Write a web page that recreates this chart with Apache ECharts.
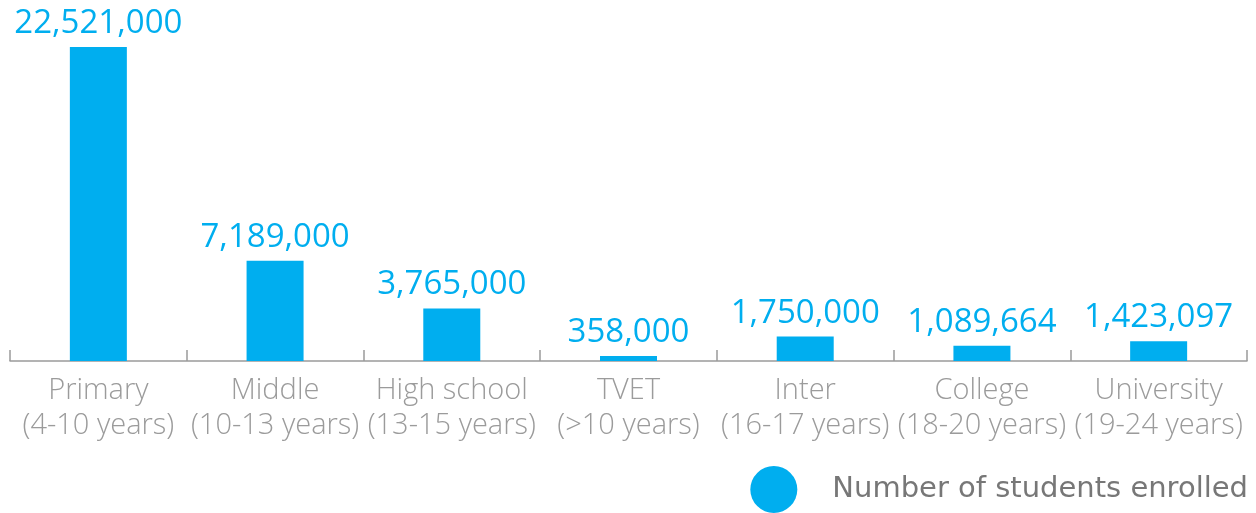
<!DOCTYPE html>
<html>
<head>
<meta charset="utf-8">
<script src="https://cdn.jsdelivr.net/npm/echarts@6/dist/echarts.min.js"></script>
<style>
  html, body { margin: 0; padding: 0; background: #fff; }
  #chart { width: 1256px; height: 513px; }
</style>
</head>
<body>
<div id="chart"></div>
<script>
// Enrolment by level of education
const levels = ['Primary', 'Middle', 'High school', 'TVET', 'Inter', 'College', 'University'];
const ageRanges = ['(4-10 years)', '(10-13 years)', '(13-15 years)', '(>10 years)', '(16-17 years)', '(18-20 years)', '(19-24 years)'];
const enrolled = [22521000, 7189000, 3765000, 358000, 1750000, 1089664, 1423097];
const seriesName = 'Number of students enrolled';

const blue = '#00AEEF';
const font = '"Open Sans", "Noto Sans", sans-serif';

const categories = levels.map((l, i) => l + '\n' + ageRanges[i]);

const chart = echarts.init(document.getElementById('chart'));
chart.setOption({
  animation: false,
  grid: { left: 10, right: 9, top: 47, bottom: 152, containLabel: false },
  legend: {
    data: [seriesName],
    right: 8,
    top: 466,
    padding: 0,
    icon: 'circle',
    itemWidth: 47,
    itemHeight: 47,
    textStyle: {
      fontFamily: '"DejaVu Sans", sans-serif',
      fontSize: 29,
      color: '#777777',
      padding: [0, 0, 0, 30]
    }
  },
  xAxis: {
    type: 'category',
    data: categories,
    axisLine: { show: true, lineStyle: { color: '#9a9a9a', width: 1.5 } },
    axisTick: { show: true, inside: true, length: 11, lineStyle: { color: '#9a9a9a', width: 1.5 } },
    axisLabel: {
      interval: 0,
      margin: 12,
      fontFamily: font,
      fontWeight: 300,
      fontSize: 29,
      lineHeight: 35,
      color: '#9b9b9b'
    }
  },
  yAxis: {
    type: 'value',
    min: 0,
    max: 'dataMax',
    show: false,
    splitLine: { show: false }
  },
  series: [{
    name: seriesName,
    type: 'bar',
    data: enrolled,
    barWidth: 57,
    itemStyle: { color: blue },
    label: {
      show: true,
      position: 'top',
      distance: 7,
      fontFamily: font,
      fontSize: 33,
      color: blue,
      formatter: p => p.value.toLocaleString('en-US')
    }
  }]
});
</script>
</body>
</html>
